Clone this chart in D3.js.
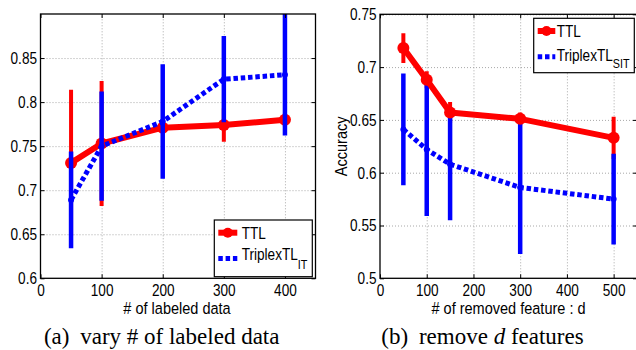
<!DOCTYPE html>
<html>
<head>
<meta charset="utf-8">
<script src="https://cdn.jsdelivr.net/npm/d3@7"></script>
<style>
  body { margin: 0; background: #fff; }
  svg { display: block; }
  .sans { font-family: "Liberation Sans", Arial, Helvetica, sans-serif; }
  .serif { font-family: "Liberation Serif", "Times New Roman", serif; }
</style>
</head>
<body>
<div id="chart"></div>
<script>
// panel (a): vary # of labeled data
const labeledX = [50, 100, 200, 300, 400];
const ttlA = [0.731, 0.753, 0.771, 0.774, 0.780];
const ttlAErr = [0.083, 0.071, 0.006, 0.019, 0.008];
const triplexA = [0.689, 0.750, 0.778, 0.826, 0.831];
const triplexAErr = [0.055, 0.062, 0.065, 0.049, 0.069];
const xTicksA = [0, 100, 200, 300, 400];
const yTicksA = [0.6, 0.65, 0.7, 0.75, 0.8, 0.85];

// panel (b): remove d features
const removedX = [50, 100, 150, 300, 500];
const ttlB = [0.718, 0.688, 0.657, 0.651, 0.633];
const ttlBErr = [0.014, 0.008, 0.010, 0.006, 0.020];
const triplexB = [0.641, 0.622, 0.608, 0.586, 0.575];
const triplexBErr = [0.053, 0.063, 0.053, 0.063, 0.043];
const xTicksB = [0, 100, 200, 300, 400, 500];
const yTicksB = [0.5, 0.55, 0.6, 0.65, 0.7, 0.75];

const RED = '#ff0000';
const BLUE = '#0000ff';
const SX = 0.8;   // matlab fonts look narrow
const FS = '17px';

const svg = d3.select('#chart').append('svg')
    .attr('width', 636)
    .attr('height', 350);

function condense(sel, sx, anchorX) {
    sel.selectAll('.tick text')
        .attr('transform', `scale(${sx},1)`)
        .attr('x', anchorX / sx);
}

function drawPanel(p) {
    const x = d3.scaleLinear().domain(p.xDomain).range([p.left, p.right]);
    const y = d3.scaleLinear().domain(p.yDomain).range([p.bottom, p.top]);
    const w = p.right - p.left, h = p.bottom - p.top;
    const g = svg.append('g');

    g.append('clipPath').attr('id', p.id + '-clip')
        .append('rect')
            .attr('x', p.left).attr('y', p.top)
            .attr('width', w).attr('height', h);

    // dotted grid
    g.append('g')
        .attr('transform', `translate(0,${p.bottom})`)
        .call(d3.axisBottom(x).tickValues(p.xTicks.filter(v => v > 0)).tickSize(-h).tickFormat(''))
        .call(s => s.select('.domain').remove())
        .selectAll('line').attr('stroke', '#a8a8a8').attr('stroke-dasharray', '1,2');
    g.append('g')
        .attr('transform', `translate(${p.left},0)`)
        .call(d3.axisLeft(y).tickValues(p.yTicks.filter(v => v > p.yDomain[0])).tickSize(-w).tickFormat(''))
        .call(s => s.select('.domain').remove())
        .selectAll('line').attr('stroke', '#a8a8a8').attr('stroke-dasharray', '1,2');

    // series
    const plot = g.append('g').attr('clip-path', `url(#${p.id}-clip)`);
    const ttl = p.xs.map((v, i) => ({x: v, y: p.ttl[i], e: p.ttlErr[i]}));
    const tri = p.xs.map((v, i) => ({x: v, y: p.tri[i], e: p.triErr[i]}));
    const line = d3.line().x(d => x(d.x)).y(d => y(d.y));

    const bars = (data, color, width) => plot.append('g')
        .selectAll('line').data(data).join('line')
            .attr('x1', d => x(d.x)).attr('x2', d => x(d.x))
            .attr('y1', d => y(d.y - d.e)).attr('y2', d => y(d.y + d.e))
            .attr('stroke', color).attr('stroke-width', width);
    const redLine = () => {
        plot.append('path').datum(ttl).attr('d', line)
            .attr('fill', 'none').attr('stroke', RED).attr('stroke-width', 6)
            .attr('stroke-linejoin', 'round');
        plot.append('g').selectAll('circle').data(ttl).join('circle')
            .attr('cx', d => x(d.x)).attr('cy', d => y(d.y)).attr('r', 6)
            .attr('fill', RED);
    };
    const blueLine = () => {
        plot.append('path').datum(tri).attr('d', line)
            .attr('fill', 'none').attr('stroke', BLUE).attr('stroke-width', 5)
            .attr('stroke-dasharray', '4.5,2.8');
        plot.append('g').selectAll('circle').data(tri).join('circle')
            .attr('cx', d => x(d.x)).attr('cy', d => y(d.y)).attr('r', 3)
            .attr('fill', BLUE);
    };

    if (p.redOnTop) {
        bars(ttl, RED, 4);
        bars(tri, BLUE, 4.5);
        blueLine();
        redLine();
    } else {
        bars(ttl, RED, 4);
        redLine();
        bars(tri, BLUE, 4.5);
        blueLine();
    }

    // axes with inward ticks on all sides
    const fmt = d => String(d);
    const ax = g.append('g')
        .attr('transform', `translate(0,${p.bottom})`)
        .call(d3.axisBottom(x).tickValues(p.xTicks).tickSizeInner(-4).tickSizeOuter(0).tickPadding(6).tickFormat(fmt));
    condense(ax, SX, 0);
    const ay = g.append('g')
        .attr('transform', `translate(${p.left},0)`)
        .call(d3.axisLeft(y).tickValues(p.yTicks).tickSizeInner(-4).tickSizeOuter(0).tickPadding(3.5).tickFormat(fmt));
    condense(ay, SX, -3.5);
    g.append('g')
        .attr('transform', `translate(0,${p.top})`)
        .call(d3.axisTop(x).tickValues(p.xTicks).tickSizeInner(-4).tickSizeOuter(0).tickFormat(''));
    g.append('g')
        .attr('transform', `translate(${p.right},0)`)
        .call(d3.axisRight(y).tickValues(p.yTicks).tickSizeInner(-4).tickSizeOuter(0).tickFormat(''));
    g.selectAll('.domain').remove();
    g.selectAll('.tick text')
        .attr('class', 'sans').style('font-size', FS).attr('fill', '#000');

    g.append('rect')
        .attr('x', p.left).attr('y', p.top).attr('width', w).attr('height', h)
        .attr('fill', 'none').attr('stroke', '#000').attr('stroke-width', 1.3);

    // axis labels
    g.append('text').attr('class', 'sans')
        .attr('transform', `translate(${p.xLabelX},${p.xLabelY}) scale(0.88,1)`)
        .attr('text-anchor', 'middle').style('font-size', '16.5px')
        .text(p.xLabel);
    if (p.yLabel) {
        g.append('text').attr('class', 'sans')
            .attr('transform', `translate(${p.yLabelX},${(p.top + p.bottom) / 2}) rotate(-90) scale(0.88,1)`)
            .attr('text-anchor', 'middle').style('font-size', '16.5px')
            .text(p.yLabel);
    }

    // legend
    const L = p.legend;
    const lg = g.append('g').attr('transform', `translate(${L.x},${L.y})`);
    lg.append('rect').attr('width', L.w).attr('height', L.h)
        .attr('fill', '#fff').attr('stroke', '#000').attr('stroke-width', 1.2);
    lg.append('line').attr('x1', L.s0).attr('x2', L.s1).attr('y1', 12.7).attr('y2', 12.7)
        .attr('stroke', RED).attr('stroke-width', 6);
    lg.append('circle').attr('cx', (L.s0 + L.s1) / 2).attr('cy', 12.7).attr('r', 5).attr('fill', RED);
    lg.append('line').attr('x1', L.s0).attr('x2', L.s1).attr('y1', 38.4).attr('y2', 38.4)
        .attr('stroke', BLUE).attr('stroke-width', 5).attr('stroke-dasharray', '4.5,2.8');
    lg.append('text').attr('class', 'sans')
        .attr('transform', `translate(${L.tx},18.8) scale(${SX},1)`)
        .style('font-size', FS).text('TTL');
    const t2 = lg.append('text').attr('class', 'sans')
        .attr('transform', `translate(${L.tx},${L.by}) scale(${SX},1)`)
        .style('font-size', FS);
    t2.append('tspan').text('TriplexTL');
    t2.append('tspan').attr('dy', L.subDy).style('font-size', '13.5px').text(L.sub);

    // caption
    const cap = svg.append('text').attr('class', 'serif')
        .attr('x', p.capX).attr('y', 344)
        .attr('text-anchor', 'middle').style('font-size', '23px');
    cap.append('tspan').text(p.capTag);
    cap.append('tspan').attr('dx', 5).text(p.capPre);
    if (p.capVar) {
        cap.append('tspan').style('font-style', 'italic').text(p.capVar);
        cap.append('tspan').text(p.capPost);
    }
}

drawPanel({
    id: 'a',
    left: 40.5, right: 315.5, top: 14, bottom: 278.3,
    xDomain: [0, 450], yDomain: [0.6, 0.9],
    xTicks: xTicksA, yTicks: yTicksA,
    xs: labeledX, ttl: ttlA, ttlErr: ttlAErr, tri: triplexA, triErr: triplexAErr,
    redOnTop: false,
    xLabel: '# of labeled data', xLabelX: 177, xLabelY: 314,
    legend: {x: 214.3, y: 220, w: 98, h: 56.7, s0: 4, s1: 23, tx: 27.4, by: 40, subDy: 9, sub: 'IT'},
    capX: 161.7, capTag: '(a)', capPre: ' vary # of labeled data'
});

drawPanel({
    id: 'b',
    left: 380, right: 637, top: 14.3, bottom: 278.3,
    xDomain: [0, 550], yDomain: [0.5, 0.75],
    xTicks: xTicksB, yTicks: yTicksB,
    xs: removedX, ttl: ttlB, ttlErr: ttlBErr, tri: triplexB, triErr: triplexBErr,
    redOnTop: true,
    xLabel: '# of removed feature : d', xLabelX: 508.5, xLabelY: 314,
    yLabel: 'Accuracy', yLabelX: 347,
    legend: {x: 533.7, y: 18.3, w: 100.6, h: 54.4, s0: 4, s1: 21.6, tx: 23, by: 43, subDy: 7, sub: 'SIT'},
    capX: 482.5, capTag: '(b)', capPre: ' remove ', capVar: 'd', capPost: ' features'
});
</script>
</body>
</html>
